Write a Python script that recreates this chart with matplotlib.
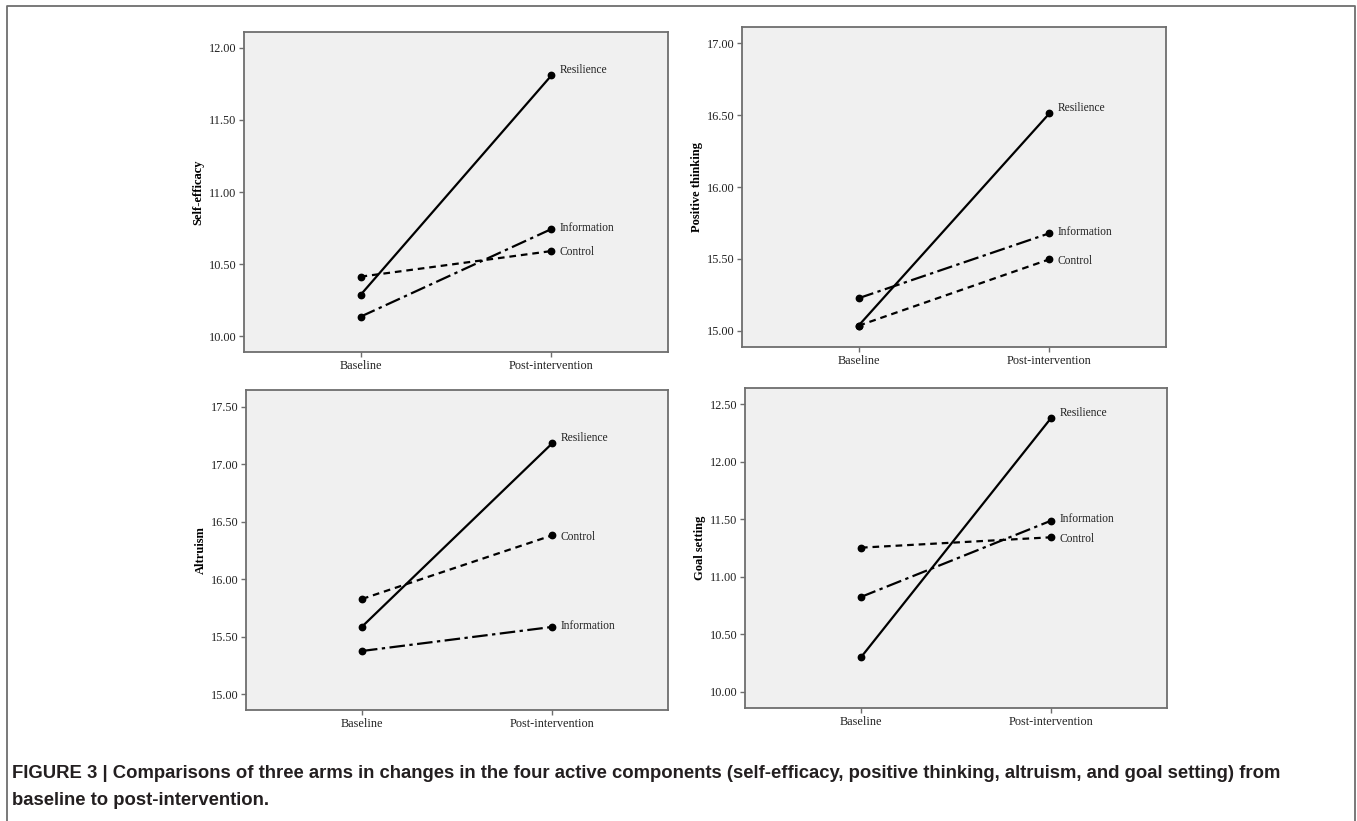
import matplotlib
matplotlib.use("Agg")
from matplotlib import pyplot as plt
from matplotlib.lines import Line2D

# time points
timepoints = ["Baseline", "Post-intervention"]
groups = ["Resilience", "Information", "Control"]

# group means per outcome, [baseline, post]
self_efficacy = {
    "Resilience": [10.285, 11.81],
    "Information": [10.134, 10.743],
    "Control": [10.412, 10.59],
}
positive_thinking = {
    "Resilience": [15.036, 16.513],
    "Information": [15.227, 15.679],
    "Control": [15.036, 15.498],
}
altruism = {
    "Resilience": [15.587, 17.18],
    "Information": [15.376, 15.585],
    "Control": [15.828, 16.381],
}
goal_setting = {
    "Resilience": [10.301, 12.378],
    "Information": [10.825, 11.487],
    "Control": [11.253, 11.343],
}

panels = [
    ("Self-efficacy", self_efficacy, [10.0, 10.5, 11.0, 11.5, 12.0], (9.889, 12.111),
     [244 / 1357, 1 - 352 / 821, 424 / 1357, 320 / 821]),
    ("Positive thinking", positive_thinking, [15.0, 15.5, 16.0, 16.5, 17.0], (14.888, 17.113),
     [742 / 1357, 1 - 347 / 821, 424 / 1357, 320 / 821]),
    ("Altruism", altruism, [15.0, 15.5, 16.0, 16.5, 17.0, 17.5], (14.863, 17.645),
     [246 / 1357, 1 - 710 / 821, 422 / 1357, 320 / 821]),
    ("Goal setting", goal_setting, [10.0, 10.5, 11.0, 11.5, 12.0, 12.5], (9.861, 12.639),
     [745 / 1357, 1 - 708 / 821, 422 / 1357, 320 / 821]),
]

styles = {
    "Resilience": dict(linestyle="-"),
    "Information": dict(linestyle=(0, (7, 2, 1.5, 2))),
    "Control": dict(linestyle=(0, (3, 2.2))),
}
label_dy = {"Resilience": 4, "Information": 1, "Control": -1}

serif = ["Liberation Serif", "DejaVu Serif"]
frame_col = "#6e6e6e"

fig = plt.figure(figsize=(13.57, 8.21), dpi=100)

# outer frame (left, top, right)
fig.add_artist(Line2D([0.0055, 0.0055, 0.9985, 0.9985], [0.0, 0.9925, 0.9925, 0.0],
                      transform=fig.transFigure, color=frame_col, lw=1.3))

for ylabel, data, yticks, ylim, rect in panels:
    ax = fig.add_axes(rect)
    ax.set_facecolor("#f0f0f0")
    x = list(range(len(timepoints)))
    for g in groups:
        ax.plot(x, data[g], color="black", lw=1.6, marker="o", markersize=4.6,
                **styles[g])
        ax.annotate(g, (x[-1], data[g][-1]), xytext=(6, label_dy[g]),
                    textcoords="offset points", va="center", ha="left",
                    fontsize=8.3, family=serif, color="#222222")
    ax.set_xlim(-0.61, 1.61)
    ax.set_ylim(*ylim)
    ax.set_xticks(x)
    ax.set_xticklabels(timepoints)
    ax.set_yticks(yticks)
    ax.set_yticklabels([f"{t:.2f}" for t in yticks])
    for lab in ax.get_xticklabels() + ax.get_yticklabels():
        lab.set_family(serif)
        lab.set_fontsize(8.8)
        lab.set_color("#222222")
    ax.tick_params(axis="both", length=3.5, width=1, color=frame_col, pad=2)
    ax.tick_params(top=False, right=False)
    for s in ax.spines.values():
        s.set_color(frame_col)
        s.set_linewidth(1.3)
    ax.set_ylabel(ylabel, family=serif, fontsize=9, fontweight="bold", labelpad=3)

caption = ("FIGURE 3 | Comparisons of three arms in changes in the four active components "
           "(self-efficacy, positive thinking, altruism, and goal setting) from\n"
           "baseline to post-intervention.")
fig.text(12 / 1357, 1 - 765 / 821, caption, ha="left", va="top", fontsize=13.3,
         fontweight="bold", family=["Liberation Sans", "DejaVu Sans"], color="#231f20",
         linespacing=1.8)

fig.savefig("out.png", dpi=100)
